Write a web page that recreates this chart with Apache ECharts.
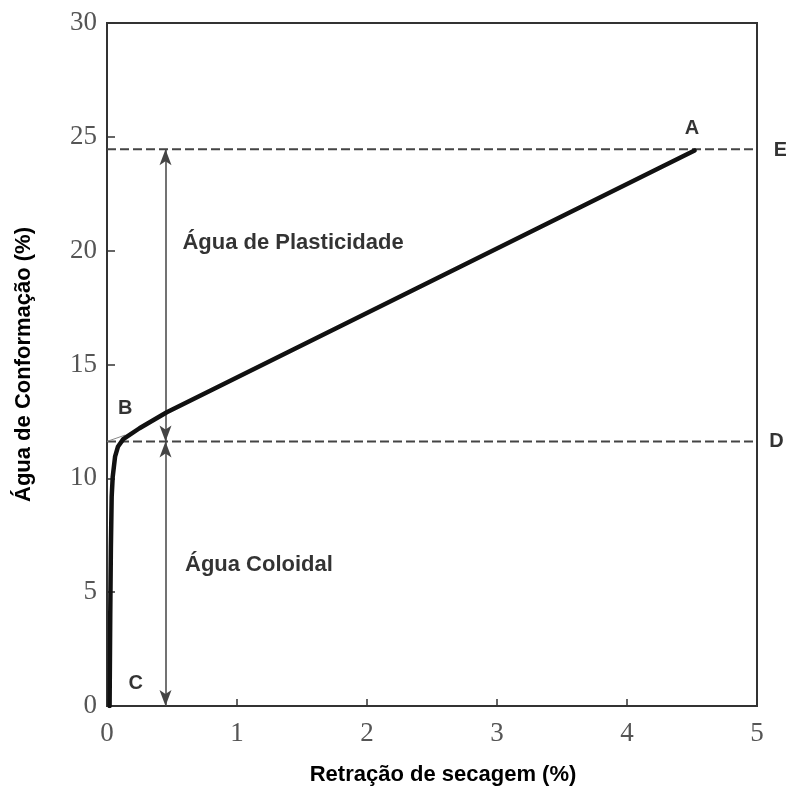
<!DOCTYPE html>
<html lang="pt">
<head>
  <meta charset="UTF-8">
  <title>Água de Conformação</title>
  <style type="text/css">
    html, body { margin: 0; padding: 0; background: #fff; }
    #chart { width: 786px; height: 787px; }
  </style>
</head>
<body>
  <div id="chart"></div>
  <script src="https://cdn.jsdelivr.net/npm/echarts@6/dist/echarts.min.js"></script>
  <script>
    // curva de secagem: [retração %, água %]
    const curveX = [0.02, 0.025, 0.03, 0.036, 0.044, 0.062, 0.085, 0.125, 0.25, 0.46, 4.52]
    const curveY = [0, 4, 7, 9.2, 10.07, 10.95, 11.4, 11.72, 12.2, 12.9, 24.4]
    const levelE = 24.45
    const levelD = 11.62
    const arrowX = 0.45
    const letters = ['A', 'B', 'C', 'D', 'E']
    const letterX = [4.5, 0.14, 0.22, 5.15, 5.18]
    const letterY = [25.35, 13.07, 1.0, 11.62, 24.4]
    const regions = ['Água de Plasticidade', 'Água Coloidal']
    const regionX = [0.58, 0.6]
    const regionY = [20.35, 6.18]

    const chart = echarts.init(document.getElementById('chart'))

    const tickFont = {
      fontFamily: 'Liberation Serif',
      fontSize: 27,
      color: '#555'
    }
    const nameFont = {
      fontFamily: 'Liberation Sans',
      fontWeight: 'bold',
      fontSize: 22,
      color: '#000'
    }
    const letterFont = {
      fontFamily: 'Liberation Sans',
      fontWeight: 'bold',
      fontSize: 20,
      color: '#000'
    }
    const textFont = {
      fontFamily: 'Liberation Sans',
      fontWeight: 'bold',
      fontSize: 22,
      color: '#000'
    }

    const option = {
      animation: false,
      grid: {
        left: 107, right: 29, top: 23, bottom: 81,
        outerBoundsMode: 'none',
        containLabel: false,
        show: true, borderColor: '#333', borderWidth: 2
      },
      xAxis: {
        type: 'value', min: 0, max: 5, interval: 1,
        name: 'Retração de secagem (%)',
        nameLocation: 'middle', nameGap: 58,
        nameTextStyle: Object.assign({ padding: [0, 0, 0, 22] }, nameFont),
        axisLine: { lineStyle: { color: '#333', width: 2 } },
        axisTick: { inside: true, length: 7, lineStyle: { color: '#333', width: 1.5 } },
        axisLabel: Object.assign({ margin: 14 }, tickFont),
        splitLine: { show: false }
      },
      yAxis: {
        type: 'value', min: 0, max: 30, interval: 5,
        name: 'Água de Conformação (%)',
        nameLocation: 'middle', nameGap: 72,
        nameTextStyle: nameFont,
        axisLine: { lineStyle: { color: '#333', width: 2 } },
        axisTick: { inside: true, length: 8, lineStyle: { color: '#333', width: 1.5 } },
        axisLabel: Object.assign({ margin: 10 }, tickFont),
        splitLine: { show: false }
      },
      series: [
        {
          type: 'line',
          data: [[0, levelE], [5, levelE]],
          symbol: 'none',
          lineStyle: { color: '#444', width: 2, type: [9, 4] },
          z: 2
        },
        {
          type: 'line',
          data: [[0, levelD], [5, levelD]],
          symbol: 'none',
          lineStyle: { color: '#444', width: 2, type: [9, 4] },
          z: 2
        },
        {
          type: 'line',
          data: [[0, levelD], [0.14, 11.9]],
          symbol: 'none',
          lineStyle: { color: '#888', width: 1 },
          z: 2
        },
        {
          type: 'line',
          data: curveX.map((x, i) => [x, curveY[i]]),
          symbol: 'none',
          lineStyle: { color: '#111', width: 4.5, cap: 'round', join: 'round' },
          z: 5,
          markLine: {
            silent: true,
            symbol: ['arrow', 'arrow'],
            symbolSize: [9, 16],
            label: { show: false },
            lineStyle: { color: '#444', width: 1.5, type: 'solid' },
            data: [
              [{ coord: [arrowX, levelE] }, { coord: [arrowX, levelD] }],
              [{ coord: [arrowX, levelD] }, { coord: [arrowX, 0] }]
            ]
          }
        },
        {
          type: 'scatter',
          clip: false,
          symbolSize: 0,
          data: letters.map((t, i) => ({ value: [letterX[i], letterY[i]], name: t })),
          label: Object.assign({
            show: true, position: [0, 0], align: 'center', verticalAlign: 'middle',
            formatter: p => p.name
          }, letterFont),
          z: 6
        },
        {
          type: 'scatter',
          symbolSize: 0,
          data: regions.map((t, i) => ({ value: [regionX[i], regionY[i]], name: t })),
          label: Object.assign({
            show: true, position: [0, 0], align: 'left', verticalAlign: 'middle',
            formatter: p => p.name
          }, textFont),
          z: 6
        }
      ]
    }

    chart.setOption(option)
  </script>
</body>
</html>
